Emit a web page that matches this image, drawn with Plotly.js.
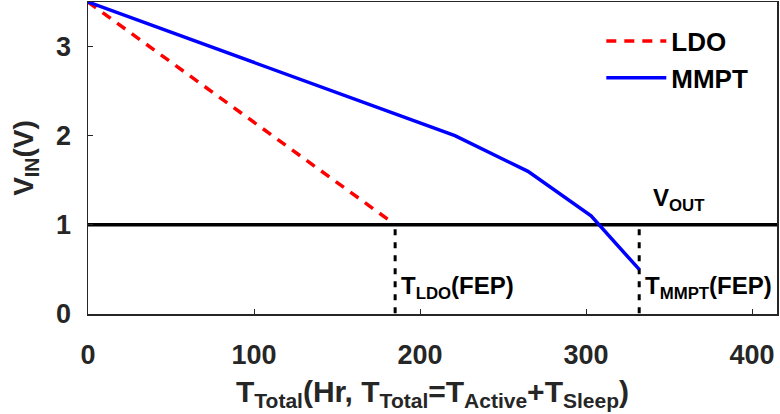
<!DOCTYPE html>
<html>
<head>
<meta charset="utf-8">
<script src="https://cdn.plot.ly/plotly-3.0.1.min.js"></script>
<style>html,body{margin:0;padding:0;background:#fff;}#chart{width:780px;height:414px;}</style>
</head>
<body>
<div id="chart"></div>
<script>
// Data
const ldoX = [0, 183];
const ldoY = [3.5, 1.03];
const mmptX = [0, 221, 265, 303, 332];
const mmptY = [3.5, 2.0, 1.6, 1.1, 0.5];
const voutX = [0, 415];
const voutY = [1, 1];
const tLdoX = [185, 185];
const tLdoY = [0.95, 0];
const tMmptX = [332, 332];
const tMmptY = [0.95, 0];
const xTicks = [0, 100, 200, 300, 400];
const yTicks = [0, 1, 2, 3];

const F = "Liberation Sans, Arial, sans-serif";
const traces = [
  {x: voutX, y: voutY, mode: 'lines', line: {color: '#000', width: 3.5}, showlegend: false, hoverinfo: 'skip'},
  {x: tLdoX, y: tLdoY, mode: 'lines', line: {color: '#000', width: 3, dash: '6px,7px'}, showlegend: false},
  {x: tMmptX, y: tMmptY, mode: 'lines', line: {color: '#000', width: 3, dash: '6px,7px'}, showlegend: false},
  {x: ldoX, y: ldoY, mode: 'lines', name: 'LDO', line: {color: '#ff0000', width: 3.5, dash: '10px,8px'}},
  {x: mmptX, y: mmptY, mode: 'lines', name: 'MMPT', line: {color: '#0000ff', width: 3.5}}
];
const layout = {
  width: 780, height: 414,
  margin: {l: 88, r: 3, t: 2, b: 100},
  paper_bgcolor: '#fff', plot_bgcolor: '#fff',
  font: {family: F, size: 20, color: '#262626'},
  showlegend: true,
  legend: {x: 0.745, y: 0.95, xanchor: 'left', yanchor: 'top', bgcolor: 'rgba(0,0,0,0)',
           font: {family: F, size: 26, color: '#000', weight: 'bold'}, itemwidth: 60, tracegroupgap: 0},
  xaxis: {range: [0, 415], tickvals: xTicks, ticktext: xTicks.map(String),
          showgrid: false, zeroline: false, showline: true, mirror: true, linecolor: '#262626', linewidth: 1.5,
          ticks: 'inside', ticklen: 5, tickcolor: '#262626', tickwidth: 1, ticklabelstandoff: 16,
          tickfont: {family: F, size: 27, color: '#262626', weight: 'bold'},
          title: {text: 'T<sub>Total</sub>(Hr, T<sub>Total</sub>=T<sub>Active</sub>+T<sub>Sleep</sub>)',
                  font: {family: F, size: 30, color: '#262626', weight: 'bold'}, standoff: 12}},
  yaxis: {range: [0, 3.5], tickvals: yTicks, ticktext: yTicks.map(String),
          showgrid: false, zeroline: false, showline: true, mirror: true, linecolor: '#262626', linewidth: 1.5,
          ticks: 'inside', ticklen: 5, tickcolor: '#262626', tickwidth: 1, ticklabelstandoff: 10,
          tickfont: {family: F, size: 27, color: '#262626', weight: 'bold'},
          title: {text: 'V<sub>IN</sub>(V)', font: {family: F, size: 28, color: '#262626', weight: 'bold'}, standoff: 14}},
  annotations: [
    {x: 356, y: 1.28, text: 'V<sub>OUT</sub>', showarrow: false, xanchor: 'center', yanchor: 'middle',
     font: {family: F, size: 24, color: '#000', weight: 'bold'}},
    {x: 187.5, y: 0.3, text: 'T<sub>LDO</sub>(FEP)', showarrow: false, xanchor: 'left', yanchor: 'middle',
     font: {family: F, size: 24, color: '#000', weight: 'bold'}},
    {x: 334, y: 0.3, text: 'T<sub>MMPT</sub>(FEP)', showarrow: false, xanchor: 'left', yanchor: 'middle',
     font: {family: F, size: 24, color: '#000', weight: 'bold'}}
  ]
};
Plotly.newPlot('chart', traces, layout, {displayModeBar: false, staticPlot: true});
</script>
</body>
</html>
